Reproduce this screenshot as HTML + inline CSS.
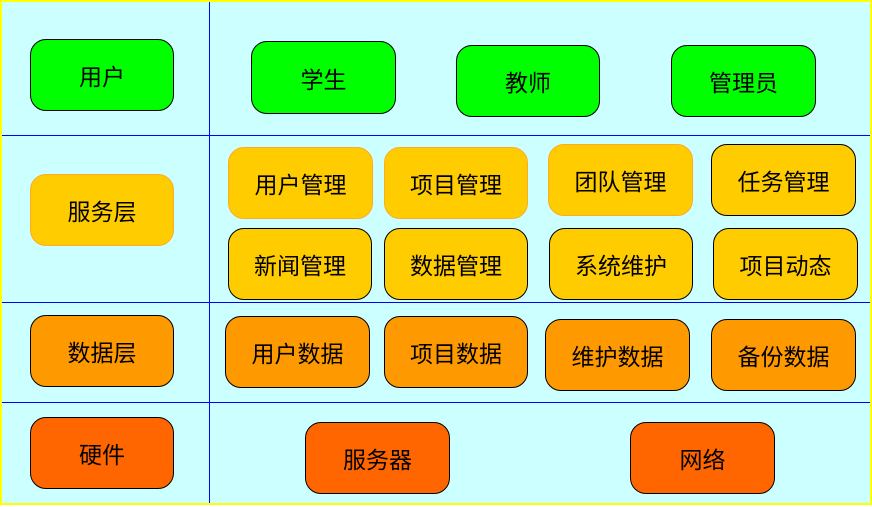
<!DOCTYPE html>
<html><head><meta charset="utf-8"><style>
html,body{margin:0;padding:0;background:#fff}
#c{position:relative;width:872px;height:507px;overflow:hidden}
.bg{position:absolute;left:0;top:0;width:868px;height:501px;background:#ccffff;border:2px solid #ffff00}
.h{position:absolute;height:1px;background:#0000ff}
.v{position:absolute;width:1px;background:#0000ff}
.b{position:absolute;box-sizing:border-box;border:1.5px solid #000;border-radius:16px;display:flex;align-items:center;justify-content:center;font-family:"Liberation Sans","Noto Sans CJK SC",sans-serif;font-size:23px;color:#000}
.g{background:#00ff00}
.y{background:#ffcc00}
.yo{background:#ffcc00;border-color:#ffaa22}
.o{background:#ff9900}
.r{background:#ff6600}
</style></head><body><div id="c">
<div class="bg"></div>
<div class="v" style="left:209px;top:2px;height:501px"></div>
<div class="h" style="left:2px;top:135px;width:868px"></div>
<div class="h" style="left:2px;top:302px;width:868px"></div>
<div class="h" style="left:2px;top:402px;width:868px"></div>

<div class="b g" style="left:30px;top:39px;width:144px;height:72px">用户</div>
<div class="b g" style="left:251px;top:41px;width:145px;height:73px">学生</div>
<div class="b g" style="left:456px;top:45px;width:144px;height:72px">教师</div>
<div class="b g" style="left:671px;top:45px;width:145px;height:72px">管理员</div>

<div class="b yo" style="left:30px;top:174px;width:144px;height:72px">服务层</div>
<div class="b yo" style="left:228px;top:147px;width:145px;height:72px">用户管理</div>
<div class="b yo" style="left:384px;top:147px;width:144px;height:72px">项目管理</div>
<div class="b yo" style="left:548px;top:144px;width:145px;height:72px">团队管理</div>
<div class="b y" style="left:711px;top:144px;width:145px;height:72px">任务管理</div>
<div class="b y" style="left:228px;top:228px;width:144px;height:72px">新闻管理</div>
<div class="b y" style="left:384px;top:228px;width:144px;height:72px">数据管理</div>
<div class="b y" style="left:549px;top:228px;width:144px;height:72px">系统维护</div>
<div class="b y" style="left:713px;top:228px;width:145px;height:72px">项目动态</div>

<div class="b o" style="left:30px;top:315px;width:144px;height:72px">数据层</div>
<div class="b o" style="left:225px;top:316px;width:145px;height:72px">用户数据</div>
<div class="b o" style="left:384px;top:316px;width:144px;height:72px">项目数据</div>
<div class="b o" style="left:545px;top:319px;width:145px;height:72px">维护数据</div>
<div class="b o" style="left:711px;top:319px;width:145px;height:72px">备份数据</div>

<div class="b r" style="left:30px;top:417px;width:144px;height:72px">硬件</div>
<div class="b r" style="left:305px;top:422px;width:145px;height:72px">服务器</div>
<div class="b r" style="left:630px;top:422px;width:145px;height:72px">网络</div>
</div></body></html>
